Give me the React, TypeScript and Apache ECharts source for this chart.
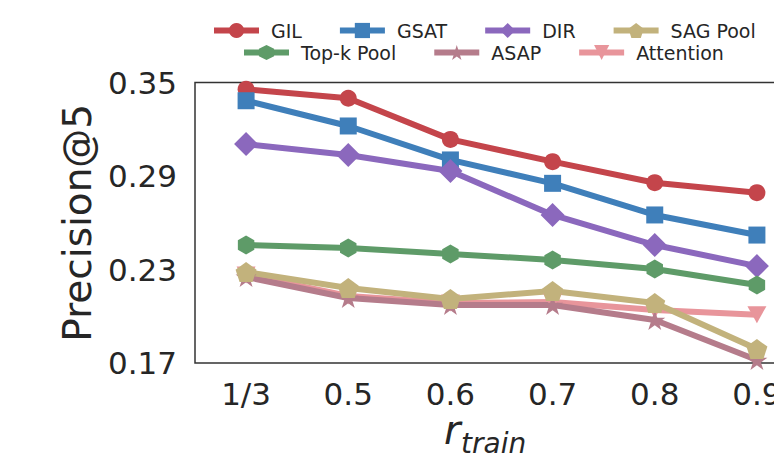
import React, { useEffect, useRef } from "react";
import * as echarts from "echarts";

const categories = ["1/3", "0.5", "0.6", "0.7", "0.8", "0.9"];
const gil = [0.3456, 0.3399, 0.3135, 0.2992, 0.2857, 0.2793];
const gsat = [0.3383, 0.3221, 0.3003, 0.2853, 0.265, 0.2521];
const dir = [0.3105, 0.3035, 0.2932, 0.265, 0.2457, 0.2322];
const topk = [0.2457, 0.2438, 0.24, 0.2361, 0.2303, 0.22];
const sagPool = [0.2284, 0.2181, 0.2111, 0.2162, 0.2085, 0.179];
const asap = [0.2252, 0.2117, 0.2072, 0.2072, 0.1976, 0.1719];
const attention = [0.2265, 0.213, 0.2085, 0.2091, 0.204, 0.201];

const yMin = 0.17;
const yMax = 0.35;
const yStep = 0.06;

const legendRow1 = ["GIL", "GSAT", "DIR", "SAG Pool"];
const legendRow2 = ["Top-k Pool", "ASAP", "Attention"];

const FONT = "DejaVu Sans";
const TEXT = "#262626";

const STAR =
  "path://M0,-1 L0.2245,-0.309 L0.951,-0.309 L0.3633,0.118 L0.588,0.809 L0,0.382 L-0.588,0.809 L-0.3633,0.118 L-0.951,-0.309 L-0.2245,-0.309 Z";
const PENTAGON =
  "path://M0,-1 L0.951,-0.309 L0.588,0.809 L-0.588,0.809 L-0.951,-0.309 Z";
const HEXAGON =
  "path://M0,-1 L0.866,-0.5 L0.866,0.5 L0,1 L-0.866,0.5 L-0.866,-0.5 Z";
const TRI_DOWN = "path://M-1,-0.8 L1,-0.8 L0,1 Z";

export default function App() {
  const ref = useRef<HTMLDivElement>(null);

  useEffect(() => {
    if (!ref.current) return;
    const chart = echarts.init(ref.current, null, { renderer: "svg" });

    const mk = (
      name: string,
      data: number[],
      color: string,
      symbol: string,
      symbolSize: number
    ) => ({
      name,
      type: "line",
      data,
      symbol,
      symbolSize,
      symbolKeepAspect: true,
      showSymbol: true,
      lineStyle: { width: 6, color },
      itemStyle: { color },
      emphasis: { disabled: true },
    });

    const legendCommon = {
      orient: "horizontal",
      itemWidth: 45,
      itemHeight: 19,
      itemGap: 35,
      selectedMode: false,
      lineStyle: { width: 6 },
      textStyle: {
        fontSize: 19,
        color: TEXT,
        fontFamily: FONT,
        padding: [0, 0, 0, 7],
      },
    };

    chart.setOption({
      animation: false,
      backgroundColor: "#ffffff",
      textStyle: { fontFamily: FONT },
      legend: [
        { ...legendCommon, data: legendRow1, left: 211, top: 21, padding: 0 },
        { ...legendCommon, data: legendRow2, left: 241, top: 43, padding: 0 },
      ],
      grid: {
        left: 195,
        top: 82.5,
        width: 613,
        height: 280.5,
        show: true,
        borderColor: "#333333",
        borderWidth: 1.5,
        backgroundColor: "transparent",
      },
      xAxis: {
        type: "category",
        data: categories,
        boundaryGap: true,
        axisLine: { show: false },
        axisTick: { show: false },
        splitLine: { show: false },
        axisLabel: {
          fontSize: 31,
          color: TEXT,
          fontFamily: FONT,
          margin: 15,
        },
      },
      yAxis: {
        type: "value",
        min: yMin,
        max: yMax,
        interval: yStep,
        axisLine: { show: false },
        axisTick: { show: false },
        splitLine: { show: false },
        axisLabel: {
          fontSize: 31,
          color: TEXT,
          fontFamily: FONT,
          margin: 18,
          formatter: (v: number) => v.toFixed(2),
        },
        name: "Precision@5",
        nameLocation: "middle",
        nameGap: 98,
        nameTextStyle: { fontSize: 39, color: TEXT, fontFamily: FONT },
      },
      graphic: [
        {
          type: "text",
          left: 444,
          top: 410,
          style: {
            text: "r",
            font: `italic 40px "${FONT}"`,
            fill: TEXT,
          },
        },
        {
          type: "text",
          left: 461,
          top: 429,
          style: {
            text: "train",
            font: `italic 28px "${FONT}"`,
            fill: TEXT,
          },
        },
      ],
      series: [
        mk("GIL", gil, "#c4454b", "circle", 17),
        mk("GSAT", gsat, "#3f7fba", "rect", 17),
        mk("DIR", dir, "#8b68bd", "diamond", 24),
        mk("Top-k Pool", topk, "#5e9b68", HEXAGON, 19),
        mk("Attention", attention, "#e8959b", TRI_DOWN, 19),
        mk("ASAP", asap, "#b57c8b", STAR, 21),
        mk("SAG Pool", sagPool, "#c2b27c", PENTAGON, 21),
      ],
    });

    return () => chart.dispose();
  }, []);

  return (
    <div
      style={{
        position: "fixed",
        left: 0,
        top: 0,
        width: 774,
        height: 453,
        overflow: "hidden",
        background: "#fff",
      }}
    >
      <div ref={ref} style={{ width: 850, height: 453 }} />
    </div>
  );
}
